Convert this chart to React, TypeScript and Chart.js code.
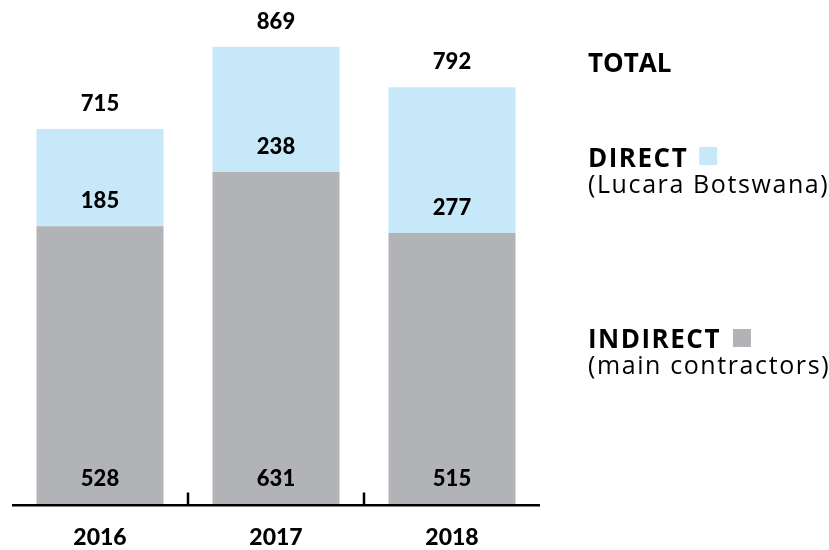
import React, { useEffect, useRef } from "react";
import { Chart, registerables } from "chart.js";

Chart.register(...registerables);

const categories = ["2016", "2017", "2018"];
const indirectValues = [528, 631, 515];
const directValues = [185, 238, 277];
const totalValues = [715, 869, 792];

const BLUE = "#C6E8F8";
const GRAY = "#B1B3B6";
const NUM_FONT = "900 22px Lato";
const YEAR_FONT = "900 23px Lato";
const LEG_BOLD = "bold 26px 'Open Sans'";
const LEG_REG = "25px 'Open Sans'";

const overlayPlugin = {
  id: "overlay",
  afterDatasetsDraw(chart: any) {
    const ctx = chart.ctx as CanvasRenderingContext2D;
    const x = chart.scales.x;
    const area = chart.chartArea;
    ctx.save();
    ctx.fillStyle = "#000";
    ctx.fillRect(area.left, area.bottom, area.right - area.left, 2.5);
    for (let i = 0; i < categories.length - 1; i++) {
      const px = (x.getPixelForValue(i) + x.getPixelForValue(i + 1)) / 2;
      ctx.fillRect(px - 1.25, area.bottom - 11.5, 2.5, 12);
    }
    ctx.font = YEAR_FONT;
    ctx.textAlign = "center";
    ctx.textBaseline = "alphabetic";
    categories.forEach((c, i) => {
      ctx.fillText(c, x.getPixelForValue(i), 545);
    });
    ctx.font = NUM_FONT;
    const indMeta = chart.getDatasetMeta(0);
    const dirMeta = chart.getDatasetMeta(1);
    indMeta.data.forEach((el: any, i: number) => {
      ctx.fillText(String(indirectValues[i]), el.x, el.base - 18);
    });
    dirMeta.data.forEach((el: any, i: number) => {
      ctx.fillText(String(directValues[i]), el.x, el.base - 18);
      ctx.fillText(String(totalValues[i]), el.x, el.y - 18);
    });
    ctx.textAlign = "left";
    const lx = 588;
    ctx.font = LEG_BOLD;
    (ctx as any).letterSpacing = "0px";
    ctx.fillText("TOTAL", lx, 72);
    (ctx as any).letterSpacing = "1.5px";
    ctx.fillText("DIRECT", lx, 167);
    let w = ctx.measureText("DIRECT").width;
    ctx.fillStyle = BLUE;
    ctx.fillRect(lx + w + 11, 147, 18, 18);
    ctx.fillStyle = "#000";
    ctx.fillText("INDIRECT", lx, 348);
    w = ctx.measureText("INDIRECT").width;
    ctx.fillStyle = GRAY;
    ctx.fillRect(lx + w + 12, 329, 18, 18);
    ctx.fillStyle = "#000";
    ctx.font = LEG_REG;
    (ctx as any).letterSpacing = "1.6px";
    ctx.fillText("(Lucara Botswana)", lx, 193);
    ctx.fillText("(main contractors)", lx, 374);
    (ctx as any).letterSpacing = "0px";
    ctx.restore();
  },
};

export default function App() {
  const ref = useRef<HTMLCanvasElement>(null);
  useEffect(() => {
    if (!ref.current) return;
    const chart = new Chart(ref.current, {
      type: "bar",
      data: {
        labels: categories,
        datasets: [
          {
            label: "INDIRECT",
            data: indirectValues,
            backgroundColor: GRAY,
            borderWidth: 0,
          },
          {
            label: "DIRECT",
            data: directValues,
            backgroundColor: BLUE,
            borderWidth: 0,
          },
        ],
      },
      options: {
        animation: false,
        responsive: false,
        maintainAspectRatio: false,
        events: [],
        layout: { padding: { top: 10, bottom: 46, left: 12, right: 289 } },
        datasets: {
          bar: { barPercentage: 127 / 176, categoryPercentage: 1 },
        },
        scales: {
          x: { stacked: true, display: false },
          y: { stacked: true, display: false, min: 0, max: 939 },
        },
        plugins: {
          legend: { display: false },
          tooltip: { enabled: false },
          title: { display: false },
        },
      },
      plugins: [overlayPlugin],
    });
    return () => chart.destroy();
  }, []);
  return (
    <div style={{ position: "fixed", left: 0, top: 0, width: 829, height: 550, background: "#fff" }}>
      <canvas ref={ref} width={829} height={550} style={{ display: "block" }} />
    </div>
  );
}
